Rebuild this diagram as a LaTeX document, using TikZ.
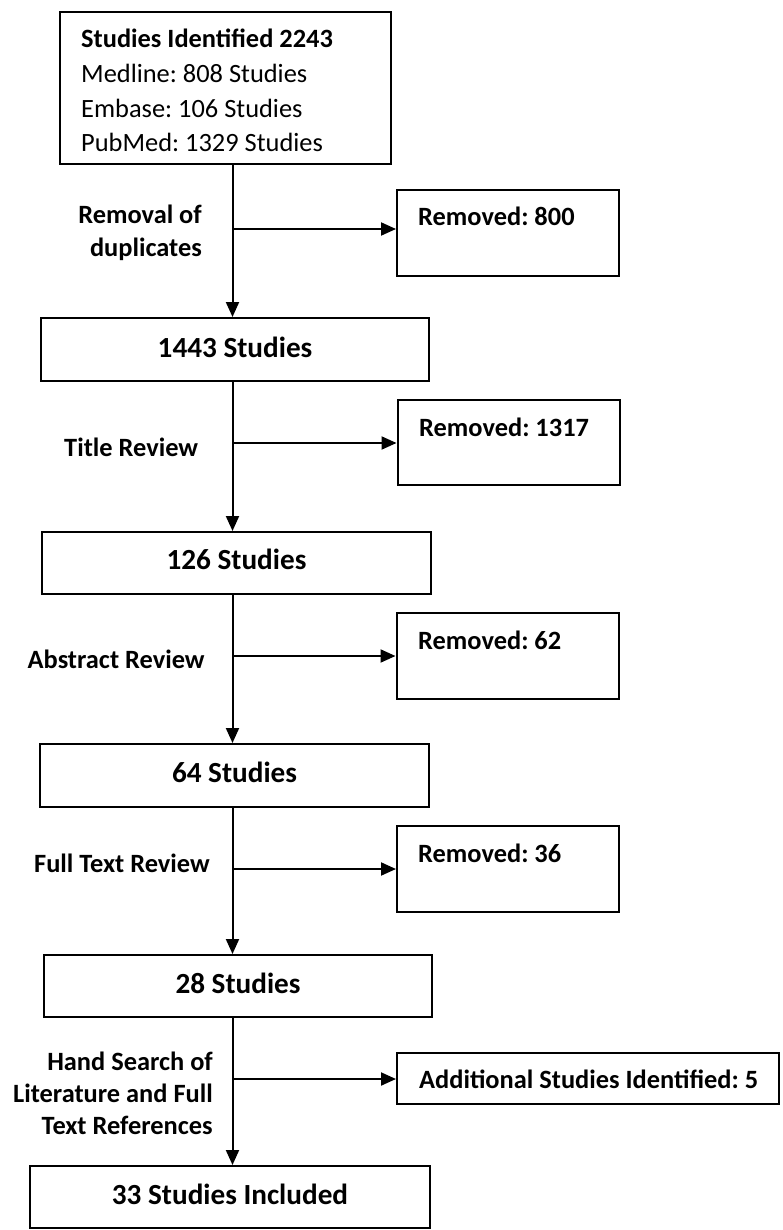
\documentclass[tikz,border=0pt]{standalone}
\usepackage{fontspec}
\setmainfont{Carlito}
\usetikzlibrary{arrows.meta}
\frenchspacing
\begin{document}
\frenchspacing
\begin{tikzpicture}[x=1pt,y=-1pt,
  box/.style={draw, line width=2pt, inner sep=0pt},
  flow/.style={line width=2pt, -{Triangle[length=15pt,width=13pt]}},
  lbl/.style={inner sep=0pt, font=\fontsize{26.4}{33.5}\selectfont\bfseries},
  mid/.style={inner sep=0pt, font=\fontsize{29.2}{35}\selectfont\bfseries, anchor=base},
]
\useasboundingbox (0,0) rectangle (783,1230);

% boxes
\node[box, minimum width=331pt, minimum height=152pt] (top) at (225.5,88) {};
\node[box, minimum width=222pt, minimum height=86pt] (r800) at (508,233) {};
\node[box, minimum width=388pt, minimum height=63pt] (b1443) at (235,349.5) {};
\node[box, minimum width=222pt, minimum height=85pt] (r1317) at (508.5,442.5) {};
\node[box, minimum width=389pt, minimum height=62pt] (b126) at (236.5,563) {};
\node[box, minimum width=222pt, minimum height=86pt] (r62) at (507.5,656) {};
\node[box, minimum width=389pt, minimum height=63pt] (b64) at (234.5,775.5) {};
\node[box, minimum width=222pt, minimum height=86pt] (r36) at (508,869) {};
\node[box, minimum width=388pt, minimum height=62pt] (b28) at (238,986) {};
\node[box, minimum width=382pt, minimum height=51pt] (add) at (588,1078.5) {};
\node[box, minimum width=400pt, minimum height=62pt] (b33) at (230,1197) {};

% box texts (multi-line nodes: base = last line)
\node[inner sep=0pt, anchor=base west, align=left, font=\fontsize{26.4}{34.7}\selectfont] (toptxt) at (81,152)
  {\textbf{Studies Identified 2243}\\Medline: 808 Studies\\Embase: 106 Studies\\PubMed: 1329 Studies};
\node[lbl, anchor=base west] (t800) at (418,226) {Removed: 800};
\node[mid] (t1443) at (235,357) {1443 Studies};
\node[lbl, anchor=base west] (t1317) at (419,436) {Removed: 1317};
\node[mid] (t126) at (236.5,569) {126 Studies};
\node[lbl, anchor=base west] (t62) at (418,649) {Removed: 62};
\node[mid] (t64) at (234.5,782) {64 Studies};
\node[lbl, anchor=base west] (t36) at (418,862) {Removed: 36};
\node[mid] (t28) at (238,993) {28 Studies};
\node[lbl, anchor=base west] (tadd) at (419,1088) {Additional Studies Identified: 5};
\node[mid] (t33) at (230,1204) {33 Studies Included};

% side labels
\node[lbl, anchor=base east, align=right] (l1) at (202,257) {Removal of\\duplicates};
\node[lbl, anchor=base west] (l2) at (64,456) {Title Review};
\node[lbl, anchor=base west] (l3) at (27.5,668) {Abstract Review};
\node[lbl, anchor=base west] (l4) at (34,872) {Full Text Review};
\node[lbl, anchor=base east, align=right, font=\fontsize{26.4}{32}\selectfont\bfseries] (l5) at (213,1134)
  {Hand Search of\\Literature and Full\\Text References};

% trunk
\coordinate (tx) at (232.5,0);
\draw[flow] (top.south -| tx) -- (b1443.north -| tx);
\draw[flow] (b1443.south -| tx) -- (b126.north -| tx);
\draw[flow] (b126.south -| tx) -- (b64.north -| tx);
\draw[flow] (b64.south -| tx) -- (b28.north -| tx);
\draw[flow] (b28.south -| tx) -- (b33.north -| tx);

% side arrows
\coordinate (j1) at (232.5,229);
\coordinate (j2) at (232.5,443);
\coordinate (j3) at (232.5,656);
\coordinate (j4) at (232.5,869);
\coordinate (j5) at (232.5,1079);
\draw[flow] (j1) -- (r800.west |- j1);
\draw[flow] (j2) -- (r1317.west |- j2);
\draw[flow] (j3) -- (r62.west |- j3);
\draw[flow] (j4) -- (r36.west |- j4);
\draw[flow] (j5) -- (add.west |- j5);
\end{tikzpicture}
\end{document}
